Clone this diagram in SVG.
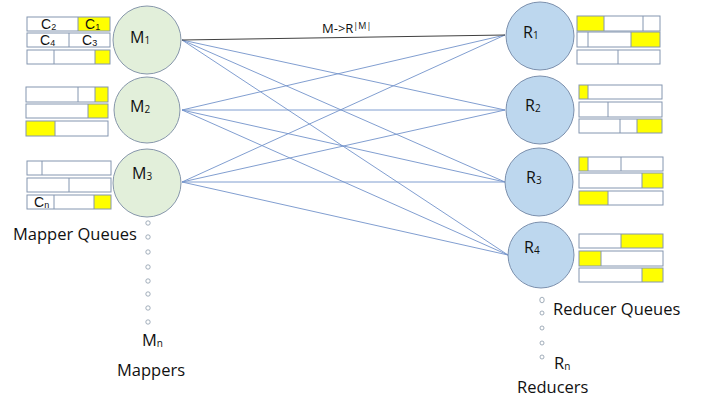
<svg xmlns="http://www.w3.org/2000/svg" width="702" height="403" viewBox="0 0 702 403">
<style>
.t{font-family:"Open Sans","Liberation Sans",sans-serif;fill:#111;}
.lbl{font-size:16.5px;}
.nd{font-size:16px;}
.cq{font-family:"Liberation Sans",Arial,sans-serif;font-size:14px;fill:#111;}
.sub{font-size:10px;}
.mp{fill:#e2efda;stroke:#8797ab;stroke-width:1;}
.rd{fill:#bdd7ee;stroke:#7c90ad;stroke-width:1;}
.q{fill:none;stroke:#8496b0;stroke-width:1;}
.y{fill:#ffff00;stroke:none;}
.dv{stroke:#8496b0;stroke-width:1;}
.e{stroke:#7393cb;stroke-width:0.9;fill:none;}
.dot{fill:#fff;stroke:#8c9aaa;stroke-width:0.8;}
</style>
<rect width="702" height="403" fill="#fff"/>
<g id="connectors">
<line class="e" x1="182" y1="40" x2="505" y2="110"/>
<line class="e" x1="182" y1="40" x2="505" y2="182"/>
<line class="e" x1="182" y1="40" x2="508" y2="255"/>
<line class="e" x1="182" y1="110" x2="505" y2="35"/>
<line class="e" x1="182" y1="110" x2="505" y2="110"/>
<line class="e" x1="182" y1="110" x2="505" y2="182"/>
<line class="e" x1="182" y1="110" x2="508" y2="255"/>
<line class="e" x1="182" y1="182" x2="505" y2="35"/>
<line class="e" x1="182" y1="182" x2="505" y2="110"/>
<line class="e" x1="182" y1="182" x2="505" y2="182"/>
<line class="e" x1="182" y1="182" x2="508" y2="255"/>
<line x1="182" y1="40" x2="505" y2="35" stroke="#404040" stroke-width="1"/>
<text class="t" x="322" y="33" font-size="13">M-&gt;R<tspan font-size="9" dy="-4">|M|</tspan></text>
</g>
<g id="M1">
<circle class="mp" cx="147" cy="40" r="34"/>
<text class="t nd" x="130" y="43">M<tspan class="sub" dy="1">1</tspan></text>
</g>
<g id="M2">
<circle class="mp" cx="147" cy="110" r="33"/>
<text class="t nd" x="130" y="112">M<tspan class="sub" dy="1">2</tspan></text>
</g>
<g id="M3">
<circle class="mp" cx="147" cy="183" r="34"/>
<text class="t nd" x="132" y="179">M<tspan class="sub" dy="1">3</tspan></text>
</g>
<g id="R1">
<circle class="rd" cx="540" cy="36" r="34"/>
<text class="t nd" x="523" y="38">R<tspan class="sub" dy="1">1</tspan></text>
</g>
<g id="R2">
<circle class="rd" cx="540" cy="110" r="34"/>
<text class="t nd" x="525" y="111">R<tspan class="sub" dy="1">2</tspan></text>
</g>
<g id="R3">
<circle class="rd" cx="539" cy="182" r="34"/>
<text class="t nd" x="526" y="183">R<tspan class="sub" dy="1">3</tspan></text>
</g>
<g id="R4">
<circle class="rd" cx="541" cy="255" r="33"/>
<text class="t nd" x="524" y="253">R<tspan class="sub" dy="1">4</tspan></text>
</g>
<g id="mapper-queues">
<rect class="y" x="78" y="17" width="32" height="14"/>
<rect class="q" x="27" y="17" width="83" height="14"/>
<line class="dv" x1="78" y1="17" x2="78" y2="31"/>
<rect class="q" x="27" y="33" width="83" height="14"/>
<line class="dv" x1="69" y1="33" x2="69" y2="47"/>
<rect class="y" x="95" y="50" width="15" height="14"/>
<rect class="q" x="27" y="50" width="83" height="14"/>
<line class="dv" x1="54" y1="50" x2="54" y2="64"/>
<line class="dv" x1="95" y1="50" x2="95" y2="64"/>
<text class="cq" x="41" y="29">C<tspan font-size="9" dy="1">2</tspan></text>
<text class="cq" x="85" y="29">C<tspan font-size="9" dy="1">1</tspan></text>
<text class="cq" x="40" y="45">C<tspan font-size="9" dy="1">4</tspan></text>
<text class="cq" x="82" y="45">C<tspan font-size="9" dy="1">3</tspan></text>

<rect class="y" x="95" y="87" width="13" height="15"/>
<rect class="q" x="26" y="87" width="82" height="15"/>
<line class="dv" x1="78" y1="87" x2="78" y2="102"/>
<line class="dv" x1="95" y1="87" x2="95" y2="102"/>
<rect class="y" x="88" y="104" width="20" height="14"/>
<rect class="q" x="26" y="104" width="82" height="14"/>
<line class="dv" x1="88" y1="104" x2="88" y2="118"/>
<rect class="y" x="26" y="121" width="29" height="15"/>
<rect class="q" x="26" y="121" width="82" height="15"/>
<line class="dv" x1="55" y1="121" x2="55" y2="136"/>

<rect class="q" x="27" y="161" width="84" height="14"/>
<line class="dv" x1="42" y1="161" x2="42" y2="175"/>
<rect class="q" x="27" y="178" width="84" height="14"/>
<line class="dv" x1="69" y1="178" x2="69" y2="192"/>
<rect class="y" x="94" y="195" width="17" height="14"/>
<rect class="q" x="27" y="195" width="84" height="14"/>
<line class="dv" x1="54" y1="195" x2="54" y2="209"/>
<line class="dv" x1="94" y1="195" x2="94" y2="209"/>
<text class="cq" x="34" y="207">C<tspan font-size="9" dy="1">n</tspan></text>
</g>
<g id="reducer-queues">
<rect class="y" x="577" y="16" width="27" height="15"/>
<rect class="q" x="577" y="16" width="83" height="15"/>
<line class="dv" x1="604" y1="16" x2="604" y2="31"/>
<line class="dv" x1="643" y1="16" x2="643" y2="31"/>
<rect class="y" x="631" y="32" width="29" height="15"/>
<rect class="q" x="577" y="32" width="83" height="15"/>
<line class="dv" x1="588" y1="32" x2="588" y2="47"/>
<line class="dv" x1="631" y1="32" x2="631" y2="47"/>
<rect class="q" x="577" y="50" width="83" height="14"/>
<line class="dv" x1="618" y1="50" x2="618" y2="64"/>

<rect class="y" x="579" y="85" width="9" height="14"/>
<rect class="q" x="579" y="85" width="83" height="14"/>
<line class="dv" x1="588" y1="85" x2="588" y2="99"/>
<rect class="q" x="579" y="102" width="83" height="15"/>
<line class="dv" x1="608" y1="102" x2="608" y2="117"/>
<rect class="y" x="637" y="119" width="25" height="14"/>
<rect class="q" x="579" y="119" width="83" height="14"/>
<line class="dv" x1="620" y1="119" x2="620" y2="133"/>
<line class="dv" x1="637" y1="119" x2="637" y2="133"/>

<rect class="y" x="579" y="157" width="9" height="14"/>
<rect class="q" x="579" y="157" width="84" height="14"/>
<line class="dv" x1="588" y1="157" x2="588" y2="171"/>
<line class="dv" x1="621" y1="157" x2="621" y2="171"/>
<rect class="y" x="642" y="173" width="21" height="15"/>
<rect class="q" x="579" y="173" width="84" height="15"/>
<line class="dv" x1="642" y1="173" x2="642" y2="188"/>
<rect class="y" x="579" y="191" width="29" height="14"/>
<rect class="q" x="579" y="191" width="84" height="14"/>
<line class="dv" x1="608" y1="191" x2="608" y2="205"/>

<rect class="y" x="621" y="234" width="42" height="14"/>
<rect class="q" x="579" y="234" width="84" height="14"/>
<line class="dv" x1="621" y1="234" x2="621" y2="248"/>
<rect class="y" x="579" y="251" width="22" height="15"/>
<rect class="q" x="579" y="251" width="84" height="15"/>
<line class="dv" x1="601" y1="251" x2="601" y2="266"/>
<rect class="y" x="642" y="268" width="21" height="14"/>
<rect class="q" x="579" y="268" width="84" height="14"/>
<line class="dv" x1="642" y1="268" x2="642" y2="282"/>
</g>
<g id="mapper-dots">
<circle class="dot" cx="148" cy="223" r="2.2"/>
<circle class="dot" cx="148" cy="237" r="2.2"/>
<circle class="dot" cx="148" cy="252" r="2.2"/>
<circle class="dot" cx="148" cy="267" r="2.2"/>
<circle class="dot" cx="148" cy="281" r="2.2"/>
<circle class="dot" cx="148" cy="294" r="2.2"/>
<circle class="dot" cx="148" cy="308" r="2.2"/>
<circle class="dot" cx="148" cy="322" r="2.2"/>
</g>
<g id="reducer-dots">
<ellipse class="dot" cx="542" cy="300" rx="2.2" ry="2.8"/>
<circle class="dot" cx="542" cy="313" r="2"/>
<circle class="dot" cx="542" cy="328" r="2"/>
<circle class="dot" cx="542" cy="343" r="2"/>
<circle class="dot" cx="542" cy="357" r="2"/>
</g>
<g id="labels">
<text class="t lbl" x="13" y="240">Mapper Queues</text>
<text class="t lbl" x="142" y="346">M<tspan font-size="10" dy="1">n</tspan></text>
<text class="t lbl" x="117" y="376">Mappers</text>
<text class="t lbl" x="553" y="315">Reducer Queues</text>
<text class="t lbl" x="554" y="369">R<tspan font-size="10" dy="1">n</tspan></text>
<text class="t lbl" x="517" y="393">Reducers</text>
</g>
</svg>
